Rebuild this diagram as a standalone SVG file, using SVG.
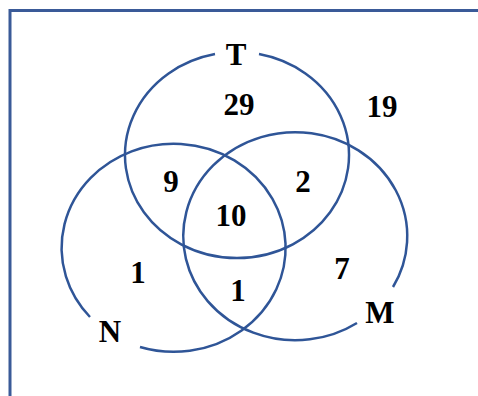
<svg xmlns="http://www.w3.org/2000/svg" width="478" height="396" viewBox="0 0 478 396">
<style>
.set{fill:none;stroke:#2f5597;stroke-width:2.5}
.frame{fill:none;stroke:#3a5a98;stroke-width:3}
text{font-family:"Liberation Serif","Times New Roman",serif;font-weight:bold;font-size:31px;fill:#000;text-anchor:middle}
</style>
<rect width="478" height="396" fill="#fff"/>
<g id="frame">
<path class="frame" d="M10 396 V10.5 H478"/>
</g>
<g id="set-T">
<path class="set" d="M259 54 A112 103 0 1 1 215 54"/>
<text x="236" y="65">T</text>
</g>
<g id="set-N">
<path class="set" d="M140 347 A112 104 0 1 0 90 317"/>
<text x="110" y="342">N</text>
</g>
<g id="set-M">
<path class="set" d="M393 287 A112 104 0 1 0 357 323"/>
<text x="380" y="323">M</text>
</g>
<g id="counts">
<text x="239" y="115">29</text>
<text x="382" y="117">19</text>
<text x="171" y="192">9</text>
<text x="303" y="192">2</text>
<text x="231" y="226">10</text>
<text x="138" y="283">1</text>
<text x="238" y="301">1</text>
<text x="342" y="279">7</text>
</g>
<g id="connectors"></g>
</svg>
